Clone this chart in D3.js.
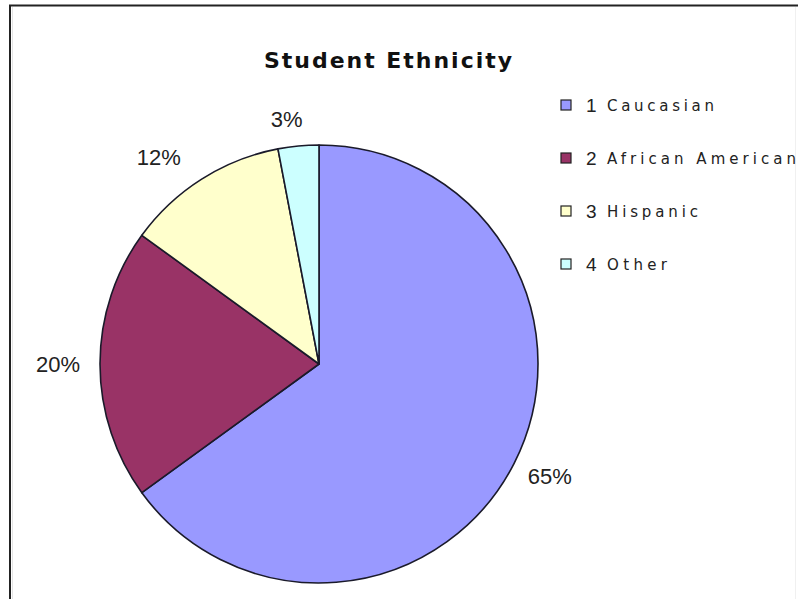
<!DOCTYPE html>
<html>
<head>
<meta charset="utf-8">
<script src="https://cdn.jsdelivr.net/npm/d3@7"></script>
<style>
  html, body { margin: 0; padding: 0; background: #fff; }
  svg { display: block; }
</style>
</head>
<body>
<svg id="chart" width="798" height="599"></svg>
<script>
// Student ethnicity shares (percent)
const categories = ["Caucasian", "African American", "Hispanic", "Other"];
const values = [65, 20, 12, 3];
const legendNumbers = ["1", "2", "3", "4"];
const colors = ["#9999FF", "#993366", "#FFFFCC", "#CCFFFF"];
const title = "Student Ethnicity";

const svg = d3.select("#chart");
const W = 798, H = 599;

// frame
svg.append("rect").attr("x", 0).attr("y", 0).attr("width", W).attr("height", H).attr("fill", "#fff");
svg.append("line").attr("x1", 9).attr("x2", W).attr("y1", 5.5).attr("y2", 5.5)
  .attr("stroke", "#222").attr("stroke-width", 2);
svg.append("line").attr("x1", 10).attr("x2", 10).attr("y1", 5).attr("y2", H)
  .attr("stroke", "#222").attr("stroke-width", 2);
svg.append("line").attr("x1", 12.5).attr("x2", 12.5).attr("y1", 7).attr("y2", H)
  .attr("stroke", "#e4e4e4").attr("stroke-width", 1);
svg.append("line").attr("x1", 795.5).attr("x2", 795.5).attr("y1", 7).attr("y2", H)
  .attr("stroke", "#f0f0f0").attr("stroke-width", 1);

// title
svg.append("text")
  .attr("x", 264).attr("y", 68)
  .attr("textLength", 248).attr("lengthAdjust", "spacing")
  .style("font-family", "'DejaVu Sans', Verdana, sans-serif")
  .style("font-weight", "bold").style("font-size", "22px")
  .attr("fill", "#111")
  .text(title);

// pie
const cx = 319, cy = 364, R = 219;
const pie = d3.pie().sort(null).value(d => d);
const arcs = pie(values);
const arc = d3.arc().innerRadius(0).outerRadius(R);
const labelArc = d3.arc().innerRadius(258).outerRadius(258);
// small per-slice nudges so labels clear the rim
const labelNudge = [[1, -4.5], [-3, 0], [-22, 11.5], [-8, 12]];

const g = svg.append("g").attr("transform", `translate(${cx},${cy})`);
g.selectAll("path.slice").data(arcs).join("path")
  .attr("class", "slice")
  .attr("d", arc)
  .attr("fill", (d, i) => colors[i])
  .attr("stroke", "#1a1a2a").attr("stroke-width", 1.6)
  .attr("stroke-linejoin", "round");

g.selectAll("text.pct").data(arcs).join("text")
  .attr("class", "pct")
  .attr("x", (d, i) => labelArc.centroid(d)[0] + labelNudge[i][0])
  .attr("y", (d, i) => labelArc.centroid(d)[1] + labelNudge[i][1])
  .attr("text-anchor", "middle")
  .attr("dominant-baseline", "central")
  .style("font-family", "'Liberation Sans', Arial, sans-serif")
  .style("font-size", "22px")
  .attr("fill", "#222")
  .text(d => d.data + "%");

// legend
const legendY = d3.scalePoint().domain(categories).range([105, 264]);
const lg = svg.append("g");
const rows = lg.selectAll("g.row").data(categories).join("g")
  .attr("class", "row")
  .attr("transform", d => `translate(0,${legendY(d)})`);
rows.append("rect")
  .attr("x", 561).attr("y", -5).attr("width", 10).attr("height", 10)
  .attr("fill", (d, i) => colors[i])
  .attr("stroke", "#222").attr("stroke-width", 1.2);
rows.append("text")
  .attr("x", 586).attr("y", 7)
  .style("font-family", "'Liberation Sans', Arial, sans-serif")
  .style("font-size", "19px")
  .attr("fill", "#222")
  .text((d, i) => legendNumbers[i]);
const labelWidths = [107, 189, 91, 60];
rows.append("text")
  .attr("x", 607).attr("y", 6)
  .attr("textLength", (d, i) => labelWidths[i]).attr("lengthAdjust", "spacing")
  .style("font-family", "'DejaVu Sans', Verdana, sans-serif")
  .style("font-size", "15px")
  .attr("fill", "#222")
  .text(d => d);
</script>
</body>
</html>
